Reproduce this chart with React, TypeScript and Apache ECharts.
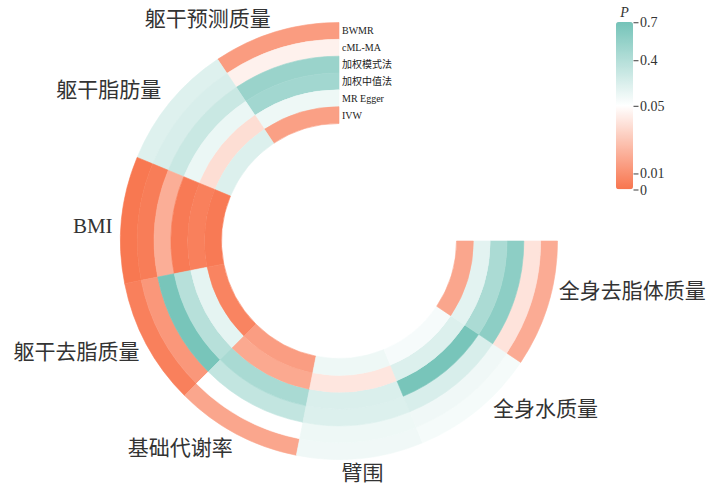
import React, { useEffect, useRef } from "react";
import * as echarts from "echarts";

// ---- data ----
const traits = ["躯干预测质量", "躯干脂肪量", "BMI", "躯干去脂质量", "基础代谢率", "臂围", "全身水质量", "全身去脂体质量"];
const methods = ["BWMR", "cML-MA", "加权模式法", "加权中值法", "MR Egger", "IVW"];

// P values, one array per method, in trait order
const pBWMR = [0.0145, 0.2, 0.001, 0.004, 0.018, 0.12, 0.096, 0.02];
const pCML = [0.045, 0.23, 0.003, 0.0127, 0.052, 0.13, 0.12, 0.04];
const pMode = [0.52, 0.3, 0.021, 0.68, 0.33, 0.21, 0.23, 0.58];
const pMedian = [0.48, 0.14, 0.002, 0.38, 0.45, 0.22, 0.68, 0.44];
const pEgger = [0.13, 0.038, 0.004, 0.17, 0.019, 0.041, 0.21, 0.18];
const pIVW = [0.016, 0.21, 0.002, 0.0057, 0.015, 0.13, 0.09, 0.018];
const pByMethod = [pBWMR, pCML, pMode, pMedian, pEgger, pIVW];

// colour-bar ticks (P) and their position on the bar (0 = bottom, 1 = top)
const legendTicks = [0, 0.01, 0.05, 0.4, 0.7];
const legendTickPos = [0, 0.096, 0.5, 0.773, 1];

// ---- styles ----
const labelNudge = [[-2, -3], [-1, -6], [1, 7], [2, 3.5], [1.5, 5], [1, 5], [9, -9], [1, -16]];
const serif = "'Liberation Serif', 'Noto Sans CJK SC', serif";

function pToPos(p: number): number {
  for (let i = 1; i < legendTicks.length; i++) {
    if (p <= legendTicks[i]) {
      const t = (p - legendTicks[i - 1]) / (legendTicks[i] - legendTicks[i - 1]);
      return legendTickPos[i - 1] + t * (legendTickPos[i] - legendTickPos[i - 1]);
    }
  }
  return 1;
}

function posToLabel(v: number): string {
  for (let i = 0; i < legendTickPos.length; i++) {
    if (Math.abs(legendTickPos[i] - v) < 1e-6) return String(legendTicks[i]);
  }
  return "";
}

export default function App() {
  const ref = useRef<HTMLDivElement>(null);
  useEffect(() => {
    if (!ref.current) return;
    const chart = echarts.init(ref.current, undefined, { renderer: "svg" });

    const cells: number[][] = [];
    pByMethod.forEach((arr, m) => {
      arr.forEach((p, t) => {
        cells.push([m, t, p, pToPos(p)]);
      });
    });

    const option: any = {
      animation: false,
      backgroundColor: "#ffffff",
      polar: { center: [339, 241], radius: [117.5, 218.5] },
      angleAxis: {
        type: "category",
        data: traits,
        startAngle: 90,
        endAngle: 360,
        clockwise: false,
        axisLine: { show: false },
        axisTick: { show: false },
        axisLabel: { show: false },
        splitLine: { show: false },
      },
      radiusAxis: {
        type: "category",
        data: methods,
        inverse: true,
        axisLine: { show: false },
        axisTick: { show: false },
        splitLine: { show: false },
        axisLabel: {
          show: true,
          interval: 0,
          hideOverlap: false,
          margin: -3,
          fontSize: 10,
          fontFamily: serif,
          color: "#222",
          align: "left",
          verticalAlign: "middle",
        },
        z: 10,
      },
      grid: { left: 616, top: 22.7, width: 17, height: 167.3 },
      xAxis: { type: "value", show: false, min: 0, max: 1 },
      yAxis: {
        type: "value",
        min: 0,
        max: 1,
        position: "right",
        axisLine: { show: false },
        splitLine: { show: false },
        axisTick: { show: false },
        axisLabel: {
          customValues: legendTickPos,
          formatter: (v: number) => posToLabel(v),
          margin: 7,
          fontSize: 14,
          fontFamily: serif,
          color: "#333",
        },
      },
      visualMap: {
        type: "continuous",
        seriesIndex: 0,
        dimension: 3,
        min: 0,
        max: 1,
        calculable: false,
        hoverLink: false,
        orient: "vertical",
        left: 616,
        top: 5,
        padding: 0,
        itemWidth: 17,
        itemHeight: 167.3,
        text: ["P", ""],
        textGap: 3,
        textStyle: { fontStyle: "italic", fontSize: 14, fontFamily: serif, color: "#333" },
        inRange: { color: ["#F8754E", "#FFFFFF", "#74C3B8"] },
      },
      series: [
        {
          type: "custom",
          coordinateSystem: "polar",
          data: cells,
          renderItem: (params: any, api: any) => {
            const m = api.value(0);
            const t = api.value(1);
            const c = api.coord([m, t]);
            const size = api.size([1, 1], [m, t]);
            const cs = params.coordSys;
            const r = Math.hypot(c[0] - cs.cx, c[1] - cs.cy);
            const ang = Math.atan2(c[1] - cs.cy, c[0] - cs.cx);
            const dr = size[0] / 2;
            const da = size[1] / 2;
            const color = api.visual("color");
            return {
              type: "sector",
              shape: {
                cx: cs.cx,
                cy: cs.cy,
                r0: r - dr,
                r: r + dr,
                startAngle: ang - da,
                endAngle: ang + da,
                clockwise: true,
              },
              style: { fill: color, stroke: color, lineWidth: 0.6 },
            };
          },
        },
        {
          type: "custom",
          coordinateSystem: "polar",
          data: traits.map((_, i) => [0, i]),
          silent: true,
          renderItem: (params: any, api: any) => {
            const t = api.value(1);
            const c = api.coord([0, t]);
            const size = api.size([1, 1], [0, t]);
            const cs = params.coordSys;
            const r = Math.hypot(c[0] - cs.cx, c[1] - cs.cy) + size[0] / 2 + 10;
            const ang = Math.atan2(c[1] - cs.cy, c[0] - cs.cx);
            const cos = Math.cos(ang);
            const align = cos < -0.25 ? "right" : cos > 0.25 ? "left" : "center";
            const nudge = labelNudge[t] || [0, 0];
            return {
              type: "text",
              x: cs.cx + r * Math.cos(ang) + nudge[0],
              y: cs.cy + r * Math.sin(ang) + nudge[1],
              style: {
                text: traits[t],
                align,
                verticalAlign: "middle",
                fontSize: 21,
                fontFamily: serif,
                fill: "#333",
              },
            };
          },
        },
        {
          // colour-bar tick marks, placed on the legend's own axes
          type: "scatter",
          xAxisIndex: 0,
          yAxisIndex: 0,
          data: legendTickPos.map((p) => [1, p]),
          symbol: "rect",
          symbolSize: [5, 1.2],
          symbolOffset: [3, 0],
          itemStyle: { color: "#333" },
          silent: true,
          z: 10,
        },
      ],
    };
    chart.setOption(option);
    return () => chart.dispose();
  }, []);

  return (
    <div
      ref={ref}
      style={{ position: "absolute", left: 0, top: 0, width: 708, height: 487, background: "#fff" }}
    />
  );
}
